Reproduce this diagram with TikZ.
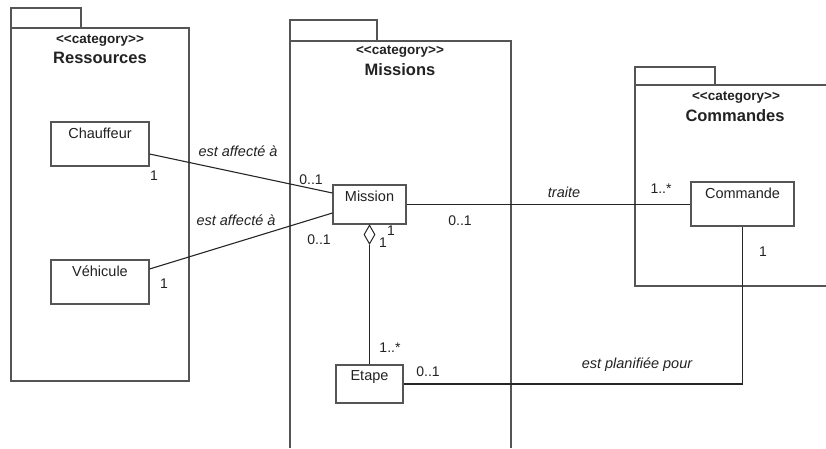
\documentclass[tikz,border=0pt]{standalone}
\usepackage{fontspec}
\setmainfont{Liberation Sans}
\usetikzlibrary{shapes.geometric}
\definecolor{ink}{HTML}{222222}
\definecolor{edge}{HTML}{555555}
\newcommand{\stereotxt}{<{}<category>{}>}
\begin{document}
\begin{tikzpicture}[x=1pt,y=-1pt,
  pkg/.style={draw=edge, line width=1.1pt},
  cls/.style={draw=edge, line width=1.1pt, fill=white, inner sep=0pt, text=ink},
  conn/.style={draw=black!85, line width=1.1pt},
  stereo/.style={font=\fontsize{13.5}{15}\selectfont\bfseries, text=ink, anchor=base, inner sep=0pt},
  pname/.style={font=\fontsize{16.5}{19}\selectfont\bfseries, text=ink, anchor=base, inner sep=0pt},
  mult/.style={font=\fontsize{14}{16}\selectfont, text=ink, anchor=base, inner sep=0pt},
  role/.style={font=\fontsize{14.5}{16}\selectfont\itshape, text=ink, anchor=base, inner sep=0pt},
  cname/.style={font=\fontsize{14.5}{16}\selectfont, text=ink, anchor=base, inner sep=0pt, yshift=-17pt},
]
\useasboundingbox (0,0) rectangle (826,448);
% packages
\draw[pkg] (11,8) rectangle (81,28);
\draw[pkg] (11,28) rectangle (189,381);
\node[stereo] (ressst) at (100,43) {\stereotxt};
\node[pname] (resspn) at (100,63) {Ressources};

\draw[pkg] (290,20) rectangle (377,41);
\draw[pkg] (290,448) -- (290,41) -- (511,41) -- (511,448);
\node[stereo] (missst) at (400,54.5) {\stereotxt};
\node[pname] (misspn) at (400,75) {Missions};

\draw[pkg] (635,67) rectangle (715,85);
\draw[pkg] (826,85) -- (635,85) -- (635,286) -- (826,286);
\node[stereo] (commst) at (736,100.5) {\stereotxt};
\node[pname] (commpn) at (735,121) {Commandes};

% classes
\node[cls, minimum width=98pt, minimum height=44pt,
  label={[cname, name=chauffeurt]north:Chauffeur}] (chauffeur) at (100,144) {};
\node[cls, minimum width=98pt, minimum height=44pt,
  label={[cname, name=vehiculet]north:Véhicule}] (vehicule) at (100,282) {};
\node[cls, minimum width=73pt, minimum height=39pt,
  label={[cname, name=missiont]north:Mission}] (mission) at (369.5,204.5) {};
\node[cls, minimum width=67pt, minimum height=38pt,
  label={[cname, name=etapet, yshift=1pt]north:Etape}] (etape) at (369.5,384) {};
\node[cls, minimum width=103pt, minimum height=44pt,
  label={[cname, name=commandet]north:Commande}] (commande) at (742.5,204) {};

% aggregation diamond
\node[diamond, draw=black!85, line width=1pt, fill=white, inner sep=0pt,
  minimum width=11pt, minimum height=19pt, anchor=north] (agg) at (mission.south) {};

% connectors
\draw[conn] ([yshift=-10pt]chauffeur.east) -- ([yshift=11.5pt]mission.west);
\draw[conn] ([yshift=13pt]vehicule.east) -- ([yshift=-8.5pt]mission.west);
\draw[conn] (mission.east) -- (mission.east -| commande.west);
\draw[conn] (agg.south) -- (etape.north);
\draw[conn] (etape.east) -| (commande.south);

% labels
\node[role] (r1) at (238,156.5) {est affecté à};
\node[role] (r2) at (236,225.5) {est affecté à};
\node[role] (r3) at (564,197) {traite};
\node[role] (r4) at (637,368) {est planifiée pour};

\node[mult] (m1) at (154,180) {1};
\node[mult] (m2) at (311,184) {0..1};
\node[mult] (m3) at (164,288) {1};
\node[mult] (m4) at (319,244) {0..1};
\node[mult] (m5) at (383,247) {1};
\node[mult] (m6) at (391,235.5) {1};
\node[mult] (m7) at (460,225) {0..1};
\node[mult] (m8) at (661,193) {1..*};
\node[mult] (m9) at (763,256.5) {1};
\node[mult] (m10) at (390,352.5) {1..*};
\node[mult] (m11) at (428,376.5) {0..1};
\end{tikzpicture}
\end{document}
